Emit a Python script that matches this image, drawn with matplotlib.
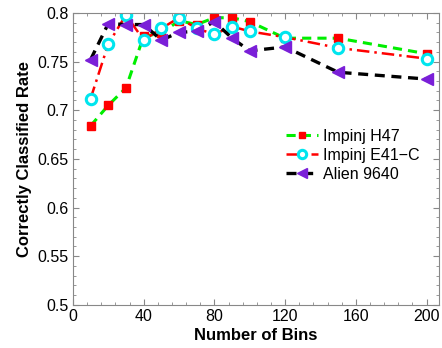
import matplotlib
matplotlib.use("Agg")
import matplotlib.pyplot as plt
from matplotlib.ticker import MultipleLocator

plt.rcParams['font.family'] = ['Liberation Sans', 'DejaVu Sans']

bins = [10, 20, 30, 40, 50, 60, 70, 80, 90, 100, 120, 150, 200]
h47 = [0.684, 0.705, 0.723, 0.776, 0.779, 0.792, 0.788, 0.795, 0.795, 0.791, 0.774, 0.774, 0.758]
e41c = [0.712, 0.768, 0.798, 0.772, 0.784, 0.795, 0.784, 0.778, 0.786, 0.781, 0.775, 0.764, 0.753]
alien = [0.752, 0.789, 0.788, 0.788, 0.772, 0.780, 0.781, 0.791, 0.774, 0.761, 0.765, 0.739, 0.732]

fig = plt.figure(figsize=(4.42, 3.48), dpi=100)
ax = fig.add_axes([0.165, 0.124, 0.828, 0.839])

ax.plot(bins, h47, linestyle=(0, (3, 2)), color='#00ee00', lw=2.2,
        marker='s', ms=6, mfc='#ff0000', mec='#ff0000', label='Impinj H47')
ax.plot(bins, e41c, linestyle=(0, (5, 2, 1, 2)), color='#ff0000', lw=1.8,
        marker='o', ms=7.5, mfc='white', mec='#00e5ee', mew=2.2, label='Impinj E41\u2212C')
ax.plot(bins, alien, linestyle=(0, (3, 2)), color='black', lw=2.4,
        marker='<', ms=9, mfc='#7a1fd8', mec='#7a1fd8', label='Alien 9640')

ax.set_xlim(0, 207)
ax.set_ylim(0.5, 0.8)
ax.xaxis.set_major_locator(MultipleLocator(40))
ax.xaxis.set_minor_locator(MultipleLocator(8))
ax.yaxis.set_major_locator(MultipleLocator(0.05))
ax.yaxis.set_minor_locator(MultipleLocator(0.01))
ax.set_yticks([0.5, 0.55, 0.6, 0.65, 0.7, 0.75, 0.8])
ax.set_yticklabels(['0.5', '0.55', '0.6', '0.65', '0.7', '0.75', '0.8'])

for s in ax.spines.values():
    s.set_color('#888888')
    s.set_linewidth(0.8)
ax.tick_params(which='both', direction='in', top=True, right=True, color='#888888')
ax.tick_params(which='major', length=4, labelsize=11.5, labelcolor='black', pad=3)
ax.tick_params(which='minor', length=2)

ax.set_xlabel('Number of Bins', fontsize=12, fontweight='bold', labelpad=3)
ax.set_ylabel('Correctly Classified Rate', fontsize=12, fontweight='bold', labelpad=4)

ax.legend(loc='upper left', bbox_to_anchor=(0.565, 0.625), frameon=False,
          fontsize=11.5, handlelength=2.0, handletextpad=0.3, labelspacing=0.25,
          borderaxespad=0, markerscale=0.8)

fig.savefig('out.png', dpi=100)
